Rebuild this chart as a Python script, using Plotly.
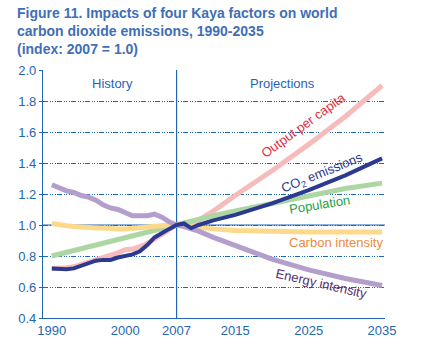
import plotly.graph_objects as go

years = list(range(1990, 2008)) + [2008, 2009, 2010, 2012, 2015, 2020, 2025, 2030, 2035]

output_per_capita = [0.72, 0.72, 0.725, 0.73, 0.745, 0.76, 0.775, 0.79, 0.80, 0.82, 0.84, 0.845, 0.86, 0.88, 0.91, 0.94, 0.97, 1.00,
                     1.01, 0.99, 1.03, 1.09, 1.19, 1.35, 1.52, 1.70, 1.90]
population = [0.80, 0.812, 0.824, 0.836, 0.847, 0.859, 0.871, 0.882, 0.894, 0.905, 0.917, 0.928, 0.94, 0.952, 0.964, 0.976, 0.988, 1.00,
              1.012, 1.024, 1.036, 1.06, 1.09, 1.14, 1.19, 1.235, 1.27]
carbon_intensity = [1.01, 1.00, 0.995, 0.99, 0.985, 0.98, 0.98, 0.98, 0.975, 0.975, 0.975, 0.98, 0.985, 0.99, 0.995, 1.0, 1.0, 1.0,
                    0.995, 0.985, 0.98, 0.975, 0.965, 0.958, 0.955, 0.955, 0.955]
energy_intensity = [1.26, 1.24, 1.22, 1.21, 1.19, 1.18, 1.16, 1.13, 1.11, 1.10, 1.08, 1.06, 1.06, 1.06, 1.07, 1.05, 1.02, 1.00,
                    0.99, 0.975, 0.96, 0.92, 0.865, 0.78, 0.71, 0.655, 0.61]
co2_emissions = [0.72, 0.715, 0.715, 0.72, 0.735, 0.75, 0.77, 0.775, 0.775, 0.79, 0.80, 0.81, 0.83, 0.87, 0.92, 0.95, 0.975, 1.00,
                 1.01, 0.98, 1.00, 1.03, 1.065, 1.14, 1.225, 1.32, 1.43]

x_ticks = [1990, 2000, 2007, 2015, 2025, 2035]
y_ticks = [0.4, 0.6, 0.8, 1.0, 1.2, 1.4, 1.6, 1.8, 2.0]

FONT = "Arial, Liberation Sans, sans-serif"
BLUE = "#1f66b3"

fig = go.Figure()
series = [
    (output_per_capita, "#f6bcbc", 5),
    (population, "#acd6a2", 5),
    (carbon_intensity, "#fdd98c", 5),
    (energy_intensity, "#b49fcc", 5),
    (co2_emissions, "#2b3990", 4),
]
for vals, col, w in series:
    fig.add_trace(go.Scatter(x=years, y=vals, mode="lines",
                             line=dict(color=col, width=w), hoverinfo="skip", showlegend=False))

fig.add_shape(type="line", xref="x", yref="y", x0=2007, x1=2007, y0=0.4, y1=2.0,
              line=dict(color=BLUE, width=1.2), layer="below")
fig.add_shape(type="line", xref="paper", yref="y", x0=0, x1=1, y0=1.0, y1=1.0,
              line=dict(color=BLUE, width=1.2), layer="below")

ann = [
    dict(x=1998.3, y=1.915, text="History", color=BLUE, angle=0),
    dict(x=2021.4, y=1.915, text="Projections", color=BLUE, angle=0),
    dict(x=2024.2, y=1.645, text="Output per capita", color="#e42b3a", angle=-36),
    dict(x=2026.8, y=1.335, text="CO<sub>2</sub> emissions", color="#2b3990", angle=-22),
    dict(x=2026.5, y=1.13, text="Population", color="#1e9e4a", angle=-9),
    dict(x=2028.7, y=0.885, text="Carbon intensity", color="#ee8a3c", angle=0),
    dict(x=2026.7, y=0.625, text="Energy intensity", color="#5a2d6e", angle=13),
]
for a in ann:
    fig.add_annotation(x=a["x"], y=a["y"], xref="x", yref="y", text=a["text"], showarrow=False,
                       textangle=a["angle"], font=dict(family=FONT, size=13, color=a["color"]))

fig.add_annotation(xref="paper", yref="paper", x=-0.082, y=1.27, xanchor="left", yanchor="top",
                   align="left", showarrow=False,
                   text="<b>Figure 11. Impacts of four Kaya factors on world<br>carbon dioxide emissions, 1990-2035<br>(index: 2007 = 1.0)</b>",
                   font=dict(family=FONT, size=14, color="#3f6fb6"))

fig.update_layout(
    width=425, height=351,
    margin=dict(l=43, r=40, t=70, b=33),
    paper_bgcolor="white", plot_bgcolor="white",
    font=dict(family=FONT, size=12, color=BLUE),
    xaxis=dict(range=[1988.8, 2035.4], tickmode="array", tickvals=x_ticks,
               ticktext=[str(t) for t in x_ticks], showgrid=False, zeroline=False,
               showline=True, linecolor=BLUE, linewidth=1.2, ticks="", ticklen=0,
               tickfont=dict(family=FONT, size=13, color=BLUE)),
    yaxis=dict(range=[0.4, 2.0], tickmode="array", tickvals=y_ticks,
               ticktext=["%.1f" % t for t in y_ticks], showgrid=True, gridcolor=BLUE,
               gridwidth=1, griddash="5px,1.5px,1px,1.5px,1px,1.5px,1px,1.5px",
               zeroline=False, showline=True, linecolor=BLUE, linewidth=1.2,
               ticks="outside", ticklen=3, tickcolor=BLUE,
               tickfont=dict(family=FONT, size=13, color=BLUE)),
)

fig.write_html("out.html")
